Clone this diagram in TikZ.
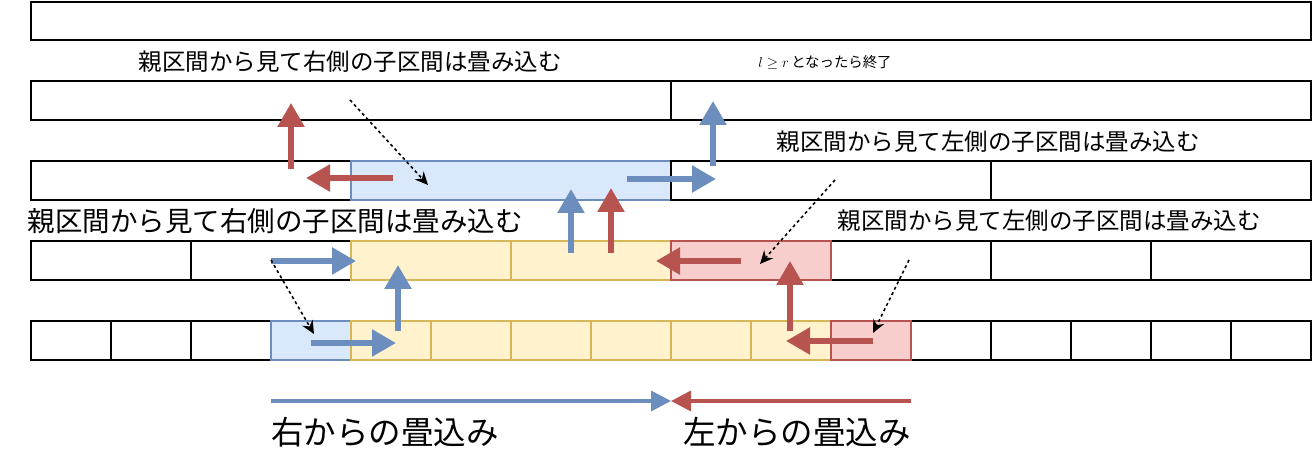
\documentclass[tikz,border=0pt]{standalone}
\usepackage{fontspec}
\newfontfamily\cjk{Noto Sans CJK JP}
\usetikzlibrary{arrows.meta}
\definecolor{bS}{HTML}{6C8EBF}\definecolor{bF}{HTML}{DAE8FC}
\definecolor{yS}{HTML}{D6B656}\definecolor{yF}{HTML}{FFF2CC}
\definecolor{rS}{HTML}{B85450}\definecolor{rF}{HTML}{F8CECC}
\begin{document}
\begin{tikzpicture}[x=1pt,y=-1pt,
 cell/.style={draw=black,line width=1.8pt},
 bc/.style={draw=bS,fill=bF,line width=1.8pt},
 yc/.style={draw=yS,fill=yF,line width=1.8pt},
 rc/.style={draw=rS,fill=rF,line width=1.8pt},
 ba/.style={draw=bS,line width=5.5pt,-{Triangle[length=24pt,width=26pt]}},
 ra/.style={draw=rS,line width=5.5pt,-{Triangle[length=24pt,width=26pt]}},
 da/.style={draw=black,dashed,line width=1.6pt,-{Stealth[length=13pt,width=12pt]}},
 lab/.style={font=\cjk\fontsize{23.5}{28}\selectfont,inner sep=0pt},
 big/.style={font=\cjk\fontsize{32.5}{38}\selectfont,inner sep=0pt}]
\useasboundingbox (0,0) rectangle (1312,462);
% row1
\draw[cell] (31,2) rectangle (1311,40);
% row2
\draw[cell] (31,81) rectangle (671,120);
\draw[cell] (671,81) rectangle (1311,120);
% row3
\draw[cell] (31,161) rectangle (351,200);
\draw[bc] (351,161) rectangle (671,200);
\draw[cell] (671,161) rectangle (991,200);
\draw[cell] (991,161) rectangle (1311,200);
% row4
\foreach \a in {31,191,831,991,1151}{\draw[cell] (\a,241) rectangle (\a+160,280);}
\draw[yc] (351,241) rectangle (511,280);
\draw[yc] (511,241) rectangle (671,280);
\draw[rc] (671,241) rectangle (831,280);
% row5
\foreach \a in {31,111,191,911,991,1071,1151,1231}{\draw[cell] (\a,321) rectangle (\a+80,360);}
\draw[bc] (271,321) rectangle (351,360);
\foreach \a in {351,431,511,591,671,751}{\draw[yc] (\a,321) rectangle (\a+80,360);}
\draw[rc] (831,321) rectangle (911,360);
% coordinates
\coordinate (a1) at (311,343); \coordinate (a2) at (396,343);
\coordinate (a3) at (398,331); \coordinate (a4) at (398,265);
\coordinate (a5) at (873,341); \coordinate (a6) at (786,341);
\coordinate (a7) at (790,331); \coordinate (a8) at (790,261);
\coordinate (b1) at (271,261); \coordinate (b2) at (356,261);
\coordinate (b3) at (571,253); \coordinate (b4) at (571,189);
\coordinate (b5) at (741,261); \coordinate (b6) at (656,261);
\coordinate (b7) at (611,253); \coordinate (b8) at (611,188);
\coordinate (c1) at (393,178); \coordinate (c2) at (306,178);
\coordinate (c3) at (291,169); \coordinate (c4) at (291,103);
\coordinate (c5) at (627,179); \coordinate (c6) at (716,179);
\coordinate (c7) at (713,166); \coordinate (c8) at (713,101);
\coordinate (d1) at (271,401); \coordinate (d2) at (671,401);
\coordinate (d3) at (911,401); \coordinate (d4) at (671,401);
\draw[ba] (a1)--(a2); \draw[ba] (a3)--(a4);
\draw[ra] (a5)--(a6); \draw[ra] (a7)--(a8);
\draw[ba] (b1)--(b2); \draw[ba] (b3)--(b4);
\draw[ra] (b5)--(b6); \draw[ra] (b7)--(b8);
\draw[ra] (c1)--(c2); \draw[ra] (c3)--(c4);
\draw[ba] (c5)--(c6); \draw[ba] (c7)--(c8);
\draw[draw=bS,line width=3.5pt,-{Triangle[length=20pt,width=20pt]}] (d1)--(d2);
\draw[draw=rS,line width=3.5pt,-{Triangle[length=20pt,width=20pt]}] (d3)--(d4);
% dashed
\coordinate (e1) at (350,100); \coordinate (e2) at (428,185);
\coordinate (e3) at (835,180); \coordinate (e4) at (760,264);
\coordinate (e5) at (271,260); \coordinate (e6) at (314,334);
\coordinate (e7) at (909,260); \coordinate (e8) at (873,333);
\draw[da] (e1)--(e2); \draw[da] (e3)--(e4);
\draw[da] (e5)--(e6); \draw[da] (e7)--(e8);
% labels
\node[lab] (t1) at (350,62) {親区間から見て右側の子区間は畳み込む};
\node[lab] (t2) at (825,62) {\Large$l\ge r$\,となったら終了};
\node[lab] (t3) at (988,142) {親区間から見て左側の子区間は畳み込む};
\node[lab,font=\cjk\fontsize{27.5}{32}\selectfont] (t4) at (275,221) {親区間から見て右側の子区間は畳み込む};
\node[lab] (t5) at (1049,221) {親区間から見て左側の子区間は畳み込む};
\node[big] (t6) at (385,432) {右からの畳込み};
\node[big] (t7) at (797,432) {左からの畳込み};
\end{tikzpicture}
\end{document}
